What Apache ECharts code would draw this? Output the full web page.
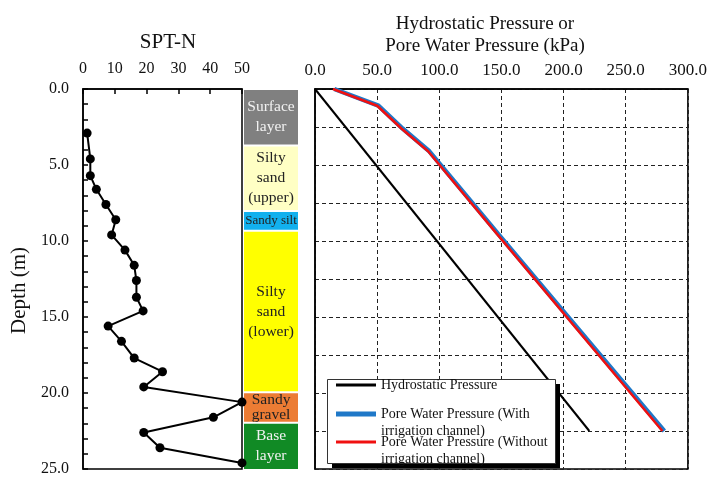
<!DOCTYPE html>
<html>
<head>
<meta charset="utf-8">
<script src="https://cdn.jsdelivr.net/npm/echarts@6/dist/echarts.min.js"></script>
<style>html,body{margin:0;padding:0;background:#fff}#c{width:710px;height:478px}</style>
</head>
<body>
<div id="c"></div>
<script>
// ---- data ----
const sptDepth = [2.9, 4.6, 5.7, 6.6, 7.6, 8.6, 9.6, 10.6, 11.6, 12.6, 13.7, 14.6, 15.6, 16.6, 17.7, 18.6, 19.6, 20.6, 21.6, 22.6, 23.6, 24.6];
const sptN     = [1.3, 2.3, 2.3, 4.2, 7.2, 10.3, 9.0, 13.2, 16.1, 16.8, 16.8, 18.9, 7.9, 12.1, 16.1, 25.0, 19.1, 50, 41.0, 19.1, 24.2, 50];

const layerNames  = ['Surface\nlayer', 'Silty\nsand\n(upper)', 'Sandy silt', 'Silty\nsand\n(lower)', 'Sandy\ngravel', 'Base\nlayer'];
const layerTop    = [0, 3.7, 8.0, 9.3, 19.9, 21.9];
const layerBottom = [3.7, 8.0, 9.3, 19.9, 21.9, 25.0];
const layerColors = ['#808080', '#ffffc4', '#12b0ee', '#ffff00', '#ec7c34', '#118a25'];
const layerTextColors = ['#f2f2f2', '#222', '#222', '#222', '#222', '#f2f2f2'];

const hydroDepth = [0, 22.5];
const hydroP     = [0, 220.7];
const poreDepth  = [0, 1.1, 2.6, 4.1, 9.5, 22.5];
const poreWith   = [15.5, 51.0, 70.5, 92.0, 147.0, 281.0];
const poreWithout= [14.5, 50.0, 69.5, 91.0, 146.0, 279.5];

const sptTicks = [0, 10, 20, 30, 40, 50];
const pressTicks = [0, 50, 100, 150, 200, 250, 300];

const seriesNames = ['Hydrostatic Pressure', 'Pore Water Pressure (With\nirrigation channel)', 'Pore Water Pressure (Without\nirrigation channel)'];

// ---- build ----
const FONT = 'Liberation Serif';
const pair = (xs, ys) => xs.map((x, i) => [x, ys[i]]);
const layerData = layerNames.map((n, i) => [layerTop[i], layerBottom[i], i]);

const chart = echarts.init(document.getElementById('c'), null, {renderer: 'canvas'});

const depthAxisBase = {
  type: 'value', inverse: true, min: 0, max: 25
};

const option = {
  backgroundColor: '#fff',
  animation: false,
  textStyle: {fontFamily: FONT},
  title: [
    {text: 'SPT-N', left: 163, top: 27, textAlign: 'center',
     textStyle: {fontFamily: FONT, fontSize: 21, fontWeight: 'normal', color: '#111'}},
    {text: 'Hydrostatic Pressure or\nPore Water Pressure (kPa)', left: 480, top: 8, textAlign: 'center',
     textStyle: {fontFamily: FONT, fontSize: 19, fontWeight: 'normal', color: '#111', lineHeight: 22}}
  ],
  grid: [
    {left: 83, top: 89, width: 159, height: 380, show: true, borderColor: '#000', borderWidth: 1.5, backgroundColor: 'transparent'},
    {left: 244, top: 89, width: 54, height: 381, show: false},
    {left: 315, top: 89, width: 373, height: 380, show: true, borderColor: '#000', borderWidth: 1.5, backgroundColor: 'transparent'}
  ],
  xAxis: [
    {gridIndex: 0, type: 'value', position: 'top', min: sptTicks[0], max: sptTicks[sptTicks.length - 1], interval: 10,
     axisLine: {show: true, lineStyle: {color: '#000', width: 1.5}},
     axisTick: {show: true, inside: true, length: 5, lineStyle: {color: '#000', width: 1.5}},
     axisLabel: {fontFamily: FONT, fontSize: 16, color: '#111', margin: 12},
     splitLine: {show: false}},
    {gridIndex: 1, type: 'value', min: 0, max: 1, show: false},
    {gridIndex: 2, type: 'value', position: 'top', min: pressTicks[0], max: pressTicks[pressTicks.length - 1], interval: 50,
     axisLine: {show: true, lineStyle: {color: '#000', width: 1.5}},
     axisTick: {show: false},
     axisLabel: {fontFamily: FONT, fontSize: 17, color: '#111', margin: 10, formatter: v => v.toFixed(1)},
     splitLine: {show: true, lineStyle: {color: '#222', width: 1, type: [4, 3]}}}
  ],
  yAxis: [
    Object.assign({}, depthAxisBase, {gridIndex: 0, interval: 5,
     axisLine: {show: true, lineStyle: {color: '#000', width: 1.5}},
     axisTick: {show: true, inside: true, length: 5, lineStyle: {color: '#000', width: 1.5}},
     minorTick: {show: true, splitNumber: 5, length: 5, lineStyle: {color: '#000', width: 1.5}},
     axisLabel: {fontFamily: FONT, fontSize: 16, color: '#111', margin: 14, formatter: v => v.toFixed(1)},
     splitLine: {show: false}}),
    Object.assign({}, depthAxisBase, {gridIndex: 1, show: false}),
    Object.assign({}, depthAxisBase, {gridIndex: 2, interval: 2.5,
     axisLine: {show: true, lineStyle: {color: '#000', width: 1.5}},
     axisTick: {show: false}, axisLabel: {show: false},
     splitLine: {show: true, lineStyle: {color: '#222', width: 1, type: [4, 3]}}})
  ],
  legend: [
    {data: [seriesNames[0]], left: 336, top: 376.5, padding: 0, icon: 'rect', itemWidth: 40, itemHeight: 3, itemGap: 0,
     textStyle: {fontFamily: FONT, fontSize: 14, color: '#111', lineHeight: 17}, z: 6},
    {data: [seriesNames[1]], left: 336, top: 388.5, padding: 0, icon: 'rect', itemWidth: 40, itemHeight: 5, itemGap: 0,
     formatter: n => '\n' + n,
     textStyle: {fontFamily: FONT, fontSize: 14, color: '#111', lineHeight: 17}, z: 6},
    {data: [seriesNames[2]], left: 336, top: 416.5, padding: 0, icon: 'rect', itemWidth: 40, itemHeight: 3, itemGap: 0,
     formatter: n => '\n' + n,
     textStyle: {fontFamily: FONT, fontSize: 14, color: '#111', lineHeight: 17}, z: 6}
  ],
  graphic: {elements: [
    {type: 'rect', z: 4, shape: {x: 332, y: 384, width: 228, height: 84}, style: {fill: '#000'}},
    {type: 'rect', z: 5, shape: {x: 327.5, y: 379.5, width: 228, height: 84}, style: {fill: '#fff', stroke: '#333', lineWidth: 1}},
    {type: 'text', z: 5, left: 9, top: 247, rotation: Math.PI / 2,
     style: {text: 'Depth (m)', font: '21px "Liberation Serif"', fill: '#111'}}
  ]},
  series: [
    {name: 'SPT-N', type: 'line', xAxisIndex: 0, yAxisIndex: 0, data: pair(sptN, sptDepth),
     symbol: 'circle', symbolSize: 9, itemStyle: {color: '#000'}, lineStyle: {color: '#000', width: 2}, z: 3},
    {name: 'Soil layers', type: 'custom', xAxisIndex: 1, yAxisIndex: 1, data: layerData,
     renderItem: function (params, api) {
       const t = api.value(0), b = api.value(1), idx = api.value(2);
       const p1 = api.coord([0, t]), p2 = api.coord([1, b]);
       const nLines = layerNames[idx].split('\n').length;
       const small = nLines === 1;
       const lh = Math.min(20, (p2[1] - p1[1] - 2) / nLines);
       return {type: 'group', children: [
         {type: 'rect', shape: {x: p1[0], y: p1[1] + 1, width: p2[0] - p1[0], height: p2[1] - p1[1] - 2},
          style: {fill: layerColors[idx]}},
         {type: 'text', style: {text: layerNames[idx], x: (p1[0] + p2[0]) / 2, y: (p1[1] + p2[1]) / 2,
          align: 'center', verticalAlign: 'middle', fill: layerTextColors[idx],
          font: (small ? '13px' : '15.5px') + ' "Liberation Serif"', lineHeight: lh}}
       ]};
     }},
    {name: seriesNames[0], type: 'line', xAxisIndex: 2, yAxisIndex: 2, data: pair(hydroP, hydroDepth),
     symbol: 'none', color: '#000', lineStyle: {color: '#000', width: 2}, z: 2},
    {name: seriesNames[1], type: 'line', xAxisIndex: 2, yAxisIndex: 2, data: pair(poreWith, poreDepth),
     symbol: 'none', color: '#1f78c8', lineStyle: {color: '#1f78c8', width: 4.5}, z: 2},
    {name: seriesNames[2], type: 'line', xAxisIndex: 2, yAxisIndex: 2, data: pair(poreWithout, poreDepth),
     symbol: 'none', color: '#f01010', lineStyle: {color: '#f01010', width: 2.5}, z: 3}
  ]
};
chart.setOption(option);
</script>
</body>
</html>
